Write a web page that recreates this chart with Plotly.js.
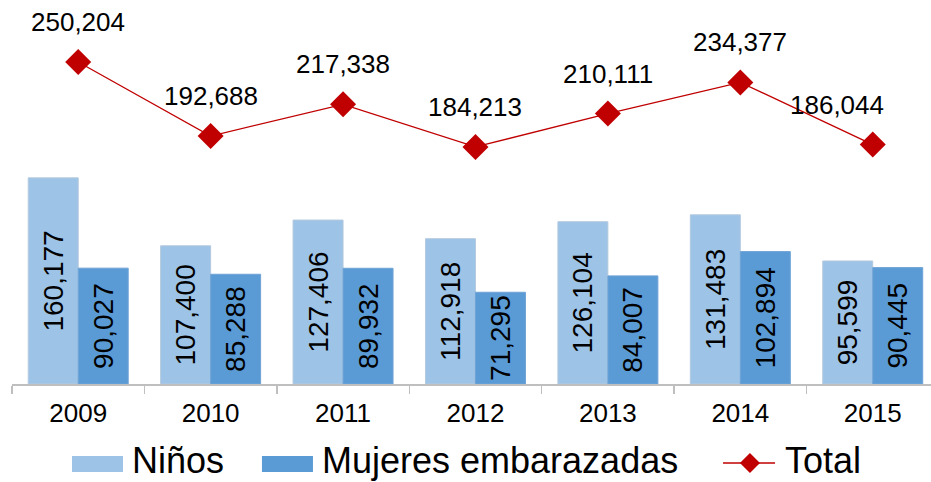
<!DOCTYPE html>
<html>
<head>
<meta charset="utf-8">
<script src="https://cdn.plot.ly/plotly-3.0.1.min.js"></script>
<style>html,body{margin:0;padding:0;background:#fff;}#chart{width:931px;height:482px;}</style>
</head>
<body>
<div id="chart"></div>
<script>
const years = ["2009", "2010", "2011", "2012", "2013", "2014", "2015"];
const ninos = [160177, 107400, 127406, 112918, 126104, 131483, 95599];
const mujeres = [90027, 85288, 89932, 71295, 84007, 102894, 90445];
const total = [250204, 192688, 217338, 184213, 210111, 234377, 186044];
const seriesNames = ["Niños", "Mujeres embarazadas", "Total"];

const FONT = "Liberation Sans, Arial, sans-serif";
const fmt = v => v.toLocaleString("en-US");

const barText = {family: FONT, size: 28, color: "#000"};

const traces = [
  {
    type: "bar", name: seriesNames[0], x: years, y: ninos,
    text: ninos.map(fmt), textposition: "inside", insidetextanchor: "middle",
    textangle: -90, textfont: barText, cliponaxis: false,
    marker: {color: "#9DC3E6", line: {color: "#B4C9DE", width: 1}},
    hoverinfo: "skip"
  },
  {
    type: "bar", name: seriesNames[1], x: years, y: mujeres,
    text: mujeres.map(fmt), textposition: "inside", insidetextanchor: "middle",
    textangle: -90, textfont: barText, cliponaxis: false,
    marker: {color: "#5B9BD5", line: {color: "#6FA3D6", width: 1}},
    hoverinfo: "skip"
  },
  {
    type: "scatter", mode: "lines+markers", name: seriesNames[2], x: years, y: total,
    line: {color: "#C00000", width: 1.3},
    marker: {symbol: "diamond", size: 20, color: "#C00000"},
    cliponaxis: false, hoverinfo: "skip"
  }
];

// value labels above the total line (x given as category index on the category axis)
const annotations = years.map((yr, i) => ({
  x: i, y: total[i], xref: "x", yref: "y", text: fmt(total[i]),
  showarrow: false, yshift: 40, xshift: (i === years.length - 1) ? -36 : 0,
  font: {family: FONT, size: 26, color: "#000"}
}));

// custom legend (paper coordinates)
const legFont = {family: FONT, size: 36, color: "#000"};
const ly = -0.2005;
annotations.push(
  {xref: "paper", yref: "paper", x: 0.1284, y: ly, xanchor: "left", yanchor: "middle", text: seriesNames[0], showarrow: false, font: legFont},
  {xref: "paper", yref: "paper", x: 0.3351, y: ly, xanchor: "left", yanchor: "middle", text: seriesNames[1], showarrow: false, font: legFont},
  {xref: "paper", yref: "paper", x: 0.8390, y: ly, xanchor: "left", yanchor: "middle", text: seriesNames[2], showarrow: false, font: legFont}
);
const dcx = 0.8030, dcy = -0.2057, ddx = 0.0109, ddy = 0.026;
const shapes = [
  {type: "rect", xref: "paper", yref: "paper", x0: 0.0653, x1: 0.1208, y0: -0.229, y1: -0.1875, fillcolor: "#9DC3E6", line: {width: 0}},
  {type: "rect", xref: "paper", yref: "paper", x0: 0.2720, x1: 0.3275, y0: -0.229, y1: -0.1875, fillcolor: "#5B9BD5", line: {width: 0}},
  {type: "line", xref: "paper", yref: "paper", x0: 0.7737, x1: 0.8303, y0: dcy, y1: dcy, line: {color: "#C00000", width: 1.5}},
  {type: "path", xref: "paper", yref: "paper",
   path: `M ${dcx-ddx},${dcy} L ${dcx},${dcy+ddy} L ${dcx+ddx},${dcy} L ${dcx},${dcy-ddy} Z`,
   fillcolor: "#C00000", line: {width: 0}}
];

const layout = {
  width: 931, height: 482,
  margin: {l: 12, r: 0, t: 0, b: 98},
  paper_bgcolor: "#fff", plot_bgcolor: "#fff",
  font: {family: FONT, color: "#000"},
  showlegend: false,
  barmode: "group", bargap: 0.245, bargroupgap: 0,
  uniformtext: {mode: "show", minsize: 28},
  xaxis: {
    type: "category", range: [-0.5, 6.44], showgrid: false, zeroline: false,
    showline: true, linecolor: "#BFBFBF", linewidth: 1.5,
    ticks: "outside", tickson: "boundaries", ticklen: 8, tickcolor: "#BFBFBF", tickwidth: 1.5,
    tickfont: {family: FONT, size: 26, color: "#000"}, ticklabelstandoff: 5
  },
  yaxis: {
    range: [0, 298400], showgrid: false, zeroline: false, showline: false,
    showticklabels: false, ticks: "", fixedrange: true
  },
  annotations: annotations,
  shapes: shapes
};

Plotly.newPlot("chart", traces, layout, {displayModeBar: false, staticPlot: true});
</script>
</body>
</html>
